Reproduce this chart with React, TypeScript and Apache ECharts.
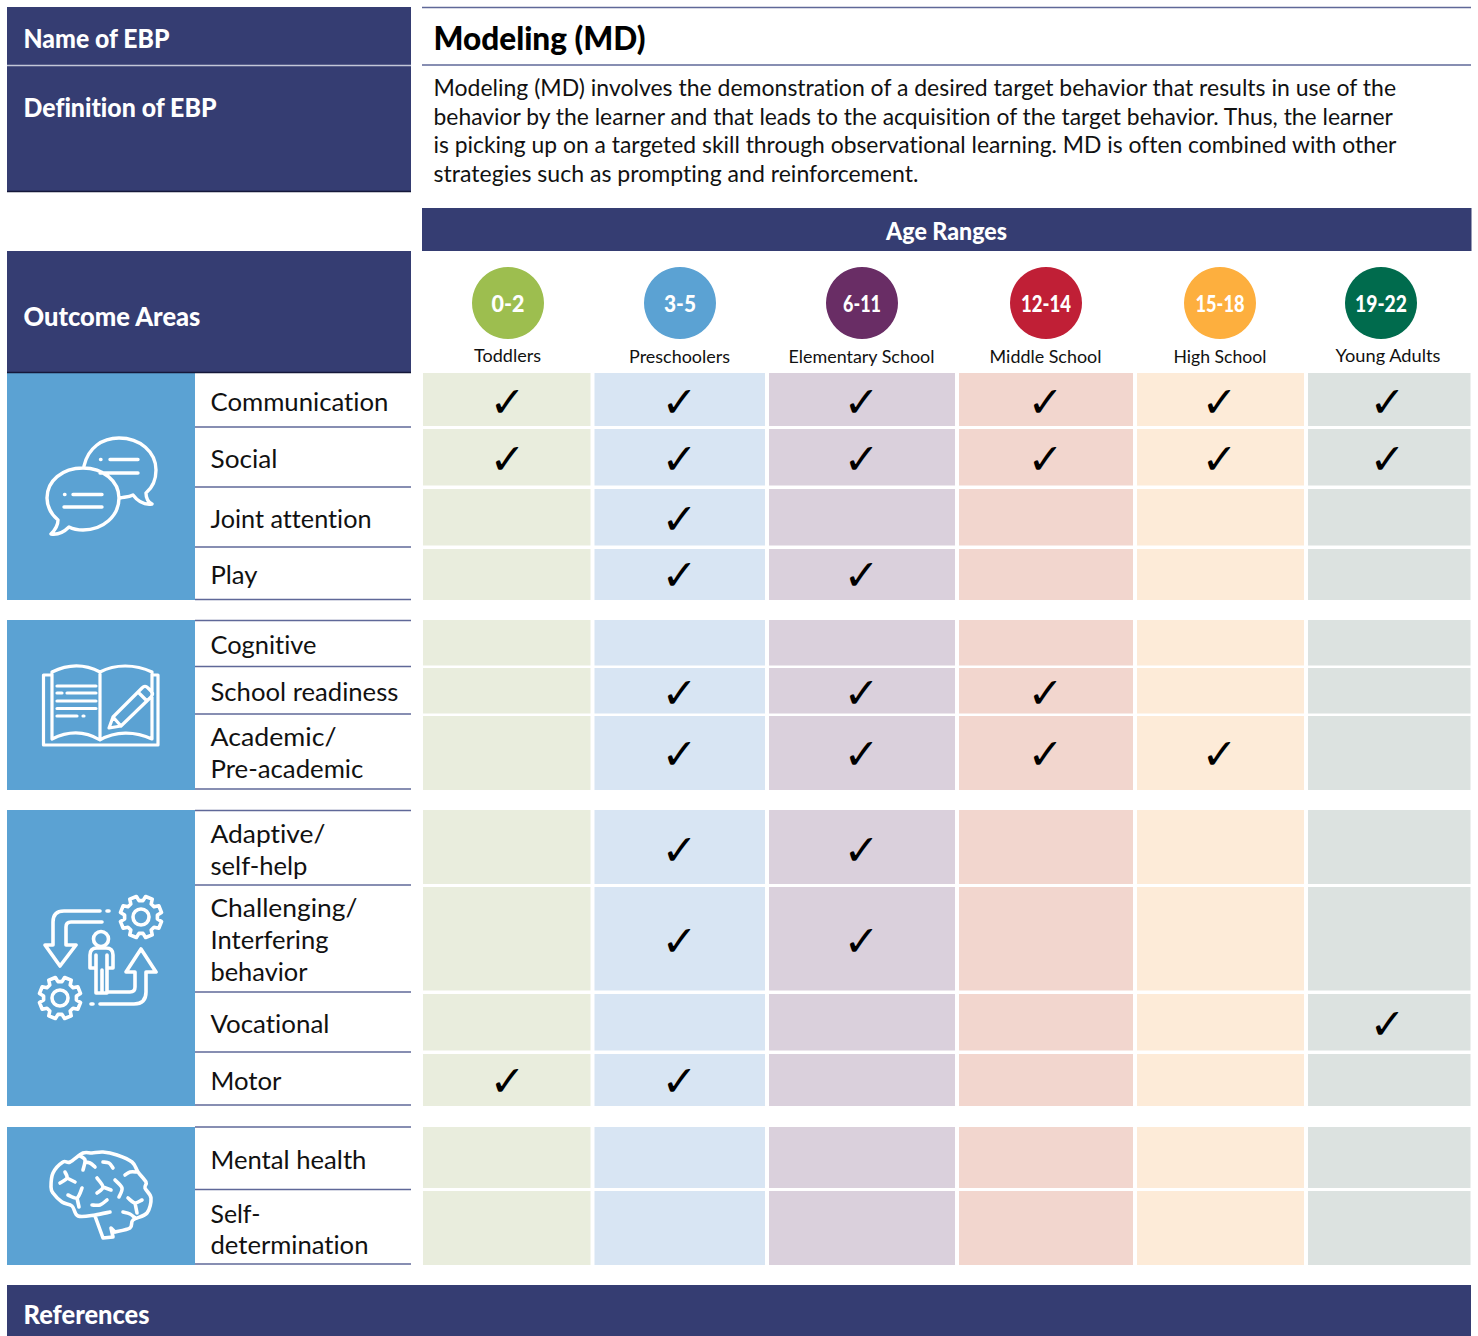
import React, { useEffect, useRef } from "react";
import * as echarts from "echarts";

// ---------- data ----------
const ageRanges = ["0-2", "3-5", "6-11", "12-14", "15-18", "19-22"];
const ageNames = ["Toddlers", "Preschoolers", "Elementary School", "Middle School", "High School", "Young Adults"];
const outcomes = [
  ["Communication"], ["Social"], ["Joint attention"], ["Play"],
  ["Cognitive"], ["School readiness"], ["Academic/", "Pre-academic"],
  ["Adaptive/", "self-help"], ["Challenging/", "Interfering", "behavior"], ["Vocational"], ["Motor"],
  ["Mental health"], ["Self-", "determination"],
];
const toddlers =     [1, 1, 0, 0, 0, 0, 0, 0, 0, 0, 1, 0, 0];
const preschoolers = [1, 1, 1, 1, 0, 1, 1, 1, 1, 0, 1, 0, 0];
const elementary =   [1, 1, 0, 1, 0, 1, 1, 1, 1, 0, 0, 0, 0];
const middle =       [1, 1, 0, 0, 0, 1, 1, 0, 0, 0, 0, 0, 0];
const high =         [1, 1, 0, 0, 0, 0, 1, 0, 0, 0, 0, 0, 0];
const young =        [1, 1, 0, 0, 0, 0, 0, 0, 0, 1, 0, 0, 0];
const marks = [toddlers, preschoolers, elementary, middle, high, young];
const definition = [
  "Modeling (MD) involves the demonstration of a desired target behavior that results in use of the",
  "behavior by the learner and that leads to the acquisition of the target behavior. Thus, the learner",
  "is picking up on a targeted skill through observational learning. MD is often combined with other",
  "strategies such as prompting and reinforcement.",
];

// ---------- layout & style ----------
const W = 1478, H = 1336;
const NAVY = "#353d72", BLUE = "#5ba2d3", RULE = "#5f6898";
const colX: [number, number][] = [[423, 590.5], [594.5, 765], [769, 955], [959, 1133], [1137, 1304], [1308, 1470.5]];
const checkX = [507.5, 679.5, 861.5, 1045.5, 1219.5, 1387.5];
const circleX = [508, 680, 862, 1046, 1220, 1381];
const ageNameX = [507.5, 679.5, 861.5, 1045.5, 1220, 1388];
const ageNameW = [67, 101, 146, 112, 93, 105];
const circleLabelW = [33, 32, 38, 50, 49, 52];
const cellFill = ["#e9eddd", "#d8e5f3", "#dad0dc", "#f2d6ce", "#fdebd8", "#dce2e0"];
const circleFill = ["#9dbe4f", "#5ba2d3", "#692d65", "#c01f36", "#fdaf3e", "#006b4d"];
const rowY: [number, number][] = [[373, 426], [429, 485.5], [489, 545.5], [549, 600], [620, 665.5], [668, 713.5], [716, 790],
  [810, 884], [887, 990.5], [994, 1050.5], [1054, 1106], [1127, 1188], [1191, 1265]];
const checkY = [401.5, 458.5, 518.5, 574.5, 645, 692.5, 753.5, 849.5, 940.5, 1023.5, 1080.5, 1160, 1230];
const labelY = [[401.5], [458.5], [518.5], [574.5], [644.5], [691.5], [736.5, 768.5], [833.5, 865.5], [907.5, 939.5, 971.5], [1023.5], [1080.5], [1159.5], [1212.5, 1244.5]];
const labelW = [[178], [67], [161], [47], [106], [188], [126, 153], [115, 97], [147, 118], [119], [71], [156], [50, 158]];
labelW[8].push(97);
const ruleY = [373, 427, 487, 547, 599.5, 620.5, 666.5, 714, 789, 810.5, 885, 992, 1052, 1105, 1127, 1189.5, 1264];
const blocks = [[373, 600], [620, 790], [810, 1106], [1127, 1265]];
const navyBoxes = [[7, 7, 404, 58], [7, 66, 404, 125], [7, 251, 404, 121], [422, 208, 1049.5, 43], [7, 1285, 1464, 51]];
const defY = [86.5, 115.5, 143.5, 172.5];
const defW = [963, 960, 963, 485];

const SANS = "Lato";
let probe: HTMLSpanElement | null = null;
const measure = (t: string, size: number, weight: string | number) => {
  if (!probe) {
    probe = document.createElement("span");
    probe.style.cssText = "position:absolute;visibility:hidden;white-space:pre;left:0;top:0;font-variant-ligatures:none";
    document.body.appendChild(probe);
  }
  probe.style.fontFamily = SANS;
  probe.style.fontSize = size + "px";
  probe.style.fontWeight = String(weight);
  probe.textContent = t;
  return probe.getBoundingClientRect().width;
};
function textEl(t: string, x: number, y: number, w: number, size: number, weight: string | number, fill: string, align = "left") {
  return {
    type: "text" as const, x, y,
    scaleX: w / measure(t, size, weight),
    style: { text: t, fontFamily: SANS, fontSize: size, fontWeight: weight, fill, align, verticalAlign: "middle" },
  };
}

// ---------- icon paths ----------
const circ = (x: number, y: number, r: number) => `M${x + r} ${y}A${r} ${r} 0 1 0 ${x - r} ${y}A${r} ${r} 0 1 0 ${x + r} ${y}Z`;
function gear(cx: number, cy: number) {
  const pts: string[] = [];
  const n = 8, ro = 21, ri = 16.5;
  for (let i = 0; i < n; i++) {
    const a = (i / n) * Math.PI * 2 + Math.PI / 8;
    const offs: [number, number][] = [[-0.27, ri], [-0.17, ro], [0.17, ro], [0.27, ri]];
    offs.forEach(([d, r]) => pts.push(`${(cx + r * Math.cos(a + d)).toFixed(1)} ${(cy + r * Math.sin(a + d)).toFixed(1)}`));
  }
  return "M" + pts.join("L") + "Z" + circ(cx, cy, 8);
}
function smooth(p: number[][], closed = false) {
  const n = p.length;
  const g = (i: number) => (closed ? p[(i + n) % n] : p[Math.max(0, Math.min(n - 1, i))]);
  let d = `M${p[0][0]} ${p[0][1]}`;
  const m = closed ? n : n - 1;
  for (let i = 0; i < m; i++) {
    const a = g(i - 1), b = g(i), c = g(i + 1), e = g(i + 2);
    d += `C${(b[0] + (c[0] - a[0]) / 6).toFixed(1)} ${(b[1] + (c[1] - a[1]) / 6).toFixed(1)} ${(c[0] - (e[0] - b[0]) / 6).toFixed(1)} ${(c[1] - (e[1] - b[1]) / 6).toFixed(1)} ${c[0]} ${c[1]}`;
  }
  return d;
}
const chatPath =
  "M83 468C62 468 47 481 47 498C47 507 51 514 58 520C58 525 55 530 51 534C58 535 64 532 69 527C73 529 78 530 83 530C103 530 119 516 119 498C119 481 103 468 83 468Z" +
  "M84 466C88 448 102 438 119 438C140 438 156 452 156 470C156 481 152 488 146 493C146 498 148 502 152 504C145 505 139 503 133 495C129 497 125 497 120 498" +
  "M73 494.5L102 494.5M64 507L102 507M64.5 494.5L65 494.5M110 459.5L138 459.5M100 473L138 473M100.5 459.5L101 459.5";
const bookPath =
  "M52 672C68 664 85 664 100 672C115 664 135 664 152 672L152 739C135 731 115 731 100 740C85 731 68 731 52 739Z M100 672L100 740" +
  "M52 675L43.5 675L43.5 745L158 745L158 675L152 675" +
  "M57 686L96 686M57 693L62 693M67 693L96 693M57 701L96 701M57 708.5L96 708.5M57 716L77 716M83 716L84 716" +
  "M109 728L113 717L142 688Q145 685 148 688L151 691Q154 694 151 697L121 726ZM113 717L121 726M138 692L147 701";
const processPath =
  gear(141, 917) + gear(60, 998) + circ(101, 939, 7.5) +
  "M100 911L64 911Q53 911 53 922L53 945L45 945L60 966L76 945L66 945L66 927Q66 922 71 922L102 922M107 911L109 911" +
  "M108 992L130 992Q135 992 135 987L135 972L126 972L141 949L156 972L146 972L146 992Q146 1004 134 1004L100 1004M91 1004L93 1004" +
  "M90 968L90 955Q90 948 97 948L106 948Q113 948 113 955L113 968L107 968M107 955L107 993L96 993L96 955M96 968L90 968M102 970L102 993";
const brainPath =
  smooth([[110, 1212], [95, 1215], [78, 1216], [72, 1206], [62, 1202], [53, 1193], [51, 1187], [53, 1173], [63, 1162], [70, 1162], [83, 1153], [92, 1153], [103, 1152], [117, 1155], [132, 1162], [138, 1172], [146, 1182], [145, 1188], [151, 1198], [147, 1213], [133, 1220], [130, 1228], [115, 1232]]) +
  "M95 1216L103 1238L113 1237L111 1228L115 1232" +
  smooth([[83, 1170], [85, 1160], [80, 1156]]) + smooth([[85, 1162], [90, 1163], [95, 1167]]) +
  smooth([[103, 1162], [109, 1163], [113, 1168]]) +
  smooth([[125, 1175], [130, 1172], [137, 1172]]) +
  smooth([[60, 1183], [67, 1178], [65, 1172]]) + "M67 1178L75 1182" +
  smooth([[97, 1178], [103, 1187], [97, 1193]]) + "M103 1187L111 1190" +
  smooth([[115, 1180], [122, 1188], [119, 1197]]) +
  smooth([[68, 1195], [77, 1198], [82, 1188]]) + "M77 1198L79 1207" +
  smooth([[92, 1205], [100, 1205], [107, 1200]]) +
  smooth([[128, 1198], [135, 1203], [142, 1200]]) + "M135 1203L137 1213" +
  smooth([[123, 1212], [130, 1214], [135, 1218]]);

echarts.graphic.registerShape("icon-chat", echarts.graphic.extendPath(chatPath, {}));
echarts.graphic.registerShape("icon-book", echarts.graphic.extendPath(bookPath, {}));
echarts.graphic.registerShape("icon-process", echarts.graphic.extendPath(processPath, {}));
echarts.graphic.registerShape("icon-brain", echarts.graphic.extendPath(brainPath, {}));

const cellData = outcomes.flatMap((_, r) => ageRanges.map((_a, c) => [c, r, marks[c][r]]));
const checkData = cellData.filter((d) => d[2] === 1);
const labelData = outcomes.flatMap((lines, r) => lines.map((_, l) => [r, l]));
const ageData = ageRanges.map((_, i) => [i]);

function buildOption(): any {
  const hLine = (x1: number, x2: number, y: number, stroke: string, lineWidth = 1.5) => ({
    type: "line", shape: { x1, y1: y, x2, y2: y }, style: { stroke, lineWidth },
  });
  const icon = (type: string, lineWidth: number) => ({
    type, x: 0, y: 0,
    style: { fill: "none", stroke: "#ffffff", lineWidth, lineCap: "round", lineJoin: "round" },
  });
  const graphics: any[] = [
    ...navyBoxes.map(([x, y, width, height]) => ({ type: "rect", shape: { x, y, width, height }, style: { fill: NAVY } })),
    ...blocks.map(([a, b]) => ({ type: "rect", shape: { x: 7, y: a, width: 188, height: b - a }, style: { fill: BLUE } })),
    hLine(7, 411, 65.5, "#c3c7d8"),
    hLine(7, 411, 191.5, "#15183a"),
    hLine(7, 411, 372.5, "#15183a"),
    hLine(422, 1471, 7.5, RULE),
    hLine(422, 1471, 65, RULE),
    ...ruleY.slice(1).map((y) => hLine(195, 411, y, RULE)),
    icon("icon-chat", 3.4), icon("icon-book", 3.2), icon("icon-process", 3.6), icon("icon-brain", 3.6),
    textEl("Name of EBP", 23.5, 37.5, 146, 26, 900, "#ffffff"),
    textEl("Definition of EBP", 23.5, 106.5, 193, 26, 900, "#ffffff"),
    textEl("Outcome Areas", 23.5, 315.5, 177, 26, 900, "#ffffff"),
    textEl("References", 23.5, 1313.5, 126, 26, 900, "#ffffff"),
    textEl("Age Ranges", 946.5, 231, 121, 24, 900, "#ffffff", "center"),
    textEl("Modeling (MD)", 433.5, 37.5, 212, 33, 900, "#000000"),
    ...definition.map((t, i) => textEl(t, 433.5, defY[i], defW[i], 24, "normal", "#111111")),
  ];
  const custom = (name: string, data: any[], renderItem: any) => ({
    type: "custom", name, data, renderItem, coordinateSystem: "cartesian2d", silent: true, clip: false,
    encode: { x: 0, y: 1 },
  });
  return {
    animation: false,
    backgroundColor: "#ffffff",
    grid: { left: 0, right: 0, top: 0, bottom: 0 },
    xAxis: { type: "value", min: 0, max: W, show: false },
    yAxis: { type: "value", min: 0, max: H, inverse: true, show: false },
    graphic: { elements: graphics },
    series: [
      custom("cells", cellData, (_: any, api: any) => {
        const c = api.value(0), r = api.value(1);
        const [x0, y0] = api.coord([colX[c][0], rowY[r][0]]);
        const [x1, y1] = api.coord([colX[c][1], rowY[r][1]]);
        return { type: "rect", shape: { x: x0, y: y0, width: x1 - x0, height: y1 - y0 }, style: { fill: cellFill[c] } };
      }),
      custom("checks", checkData, (_: any, api: any) => {
        const [x, y] = api.coord([checkX[api.value(0)], checkY[api.value(1)]]);
        return {
          type: "text", x, y,
          style: { text: "\u2713", fontFamily: "DejaVu Sans", fontSize: 43, fill: "#000000", align: "center", verticalAlign: "middle" },
        };
      }),
      custom("ageCircles", ageData, (_: any, api: any) => {
        const i = api.value(0);
        const [x, y] = api.coord([circleX[i], 303]);
        return {
          type: "group",
          children: [
            { type: "circle", shape: { cx: x, cy: y, r: 36 }, style: { fill: circleFill[i] } },
            textEl(ageRanges[i], x, y + 0.5, circleLabelW[i], 22, 900, "#ffffff", "center"),
          ],
        };
      }),
      custom("ageNames", ageData, (_: any, api: any) => {
        const i = api.value(0);
        const [x, y] = api.coord([ageNameX[i], 355.5]);
        return textEl(ageNames[i], x, y, ageNameW[i], 18, "normal", "#111111", "center");
      }),
      custom("rowLabels", labelData, (_: any, api: any) => {
        const r = api.value(0), l = api.value(1);
        const [x, y] = api.coord([210.5, labelY[r][l]]);
        return textEl(outcomes[r][l], x, y, labelW[r][l], 25, "normal", "#111111");
      }),
    ],
  };
}

export default function App() {
  const ref = useRef<HTMLDivElement>(null);
  useEffect(() => {
    const chart = echarts.init(ref.current!, undefined, { renderer: "svg" });
    chart.setOption(buildOption());
    return () => chart.dispose();
  }, []);
  return <div ref={ref} style={{ position: "absolute", left: 0, top: 0, width: W, height: H, fontVariantLigatures: "none" }} />;
}
